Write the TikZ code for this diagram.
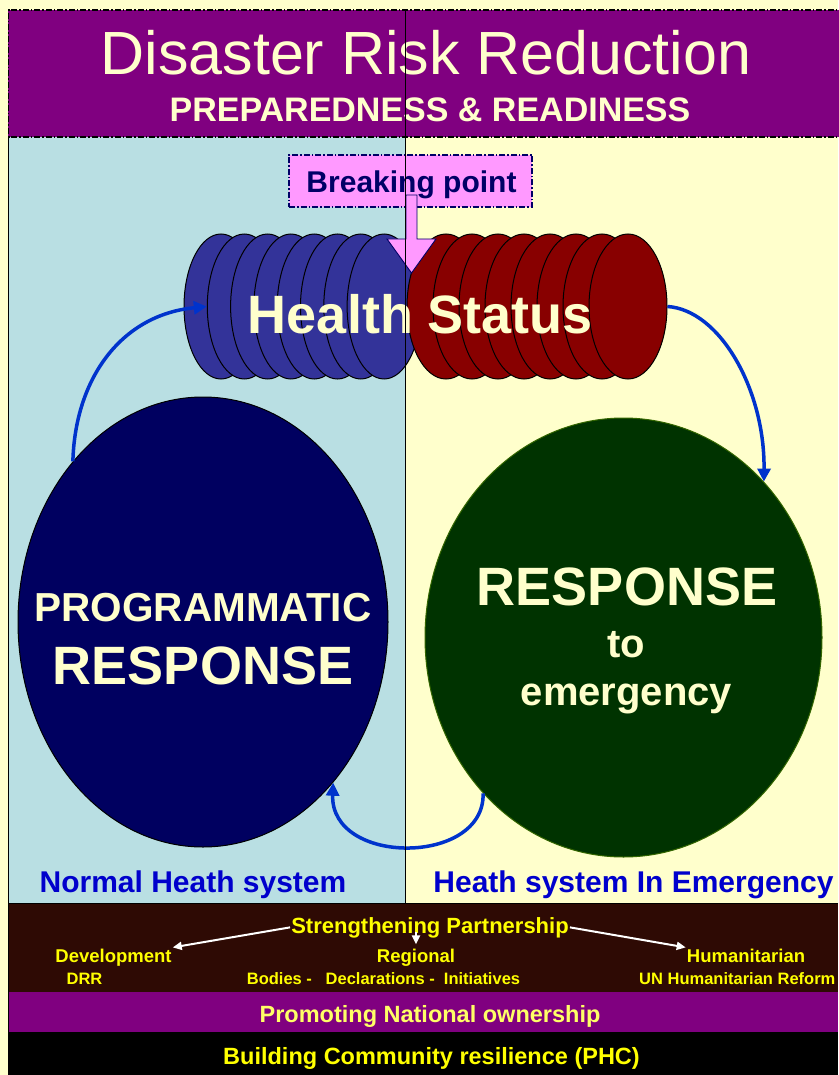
\documentclass[tikz,border=0pt]{standalone}
\usepackage{fontspec}
\setmainfont{Liberation Sans}
\usetikzlibrary{shapes.geometric,arrows.meta}
\definecolor{bgy}{HTML}{FFFFCC}
\definecolor{hpurple}{HTML}{800080}
\definecolor{lblue}{HTML}{B9DFE3}
\definecolor{bandbrown}{HTML}{2E0A04}
\definecolor{cylblue}{HTML}{333399}
\definecolor{cylred}{HTML}{880000}
\definecolor{navyell}{HTML}{000060}
\definecolor{greenell}{HTML}{003300}
\definecolor{greenedge}{HTML}{336600}
\definecolor{arrblue}{HTML}{0033CC}
\definecolor{labblue}{HTML}{0000CC}
\definecolor{pinkbp}{HTML}{FF99FF}
\definecolor{navytxt}{HTML}{000066}
\definecolor{ytxt}{HTML}{FFFF00}
\definecolor{ytxtpale}{HTML}{FFFF66}
\newcommand\setfs[1]{\fontsize{#1}{#1}\selectfont}
\begin{document}
\begin{tikzpicture}[x=1pt,y=-1pt,
  txt/.style={anchor=base,inner sep=1pt},
  cylb/.style={ellipse,draw=black,line width=1pt,fill=cylblue,minimum width=74pt,minimum height=145pt,inner sep=0pt},
  cylr/.style={ellipse,draw=black,line width=1pt,fill=cylred,minimum width=78pt,minimum height=145pt,inner sep=0pt},
  barrow/.style={draw=arrblue,line width=3.5pt,-{Triangle[length=13pt,width=13pt]}},
  warr/.style={draw=white,line width=2pt,-{Triangle[length=9pt,width=8pt]}},
  dashdot/.style={dash pattern=on 6pt off 2pt on 1.5pt off 2pt}
]
\useasboundingbox (0,0) rectangle (838,1075);
\fill[bgy] (0,0) rectangle (838,1075);
% panels
\fill[lblue] (8,137) rectangle (405,903);
\draw[line width=1pt] (8.5,137) -- (8.5,903);
% header
\fill[hpurple] (8,10) rectangle (845,137);
\draw[line width=1.5pt,dashdot] (845,10) -- (8.5,10) -- (8.5,137) -- (845,137);
% bottom bands
\fill[bandbrown] (8,903) rectangle (838,992);
\fill[hpurple] (8,992) rectangle (838,1032);
\fill[black] (8,1032) rectangle (838,1075);
\draw[line width=1pt] (8,903.5) -- (838,903.5);
\draw[line width=1pt] (8.5,903) -- (8.5,1075);

% header text
\node[txt,text=bgy,font=\setfs{61}] (title) at (426,75) {Disaster Risk Reduction};
\node[txt,text=bgy,font=\bfseries\setfs{34}] (sub) at (430,122) {PREPAREDNESS \& READINESS};

% big ellipses
\node[ellipse,draw=black,line width=1pt,fill=navyell,minimum width=370pt,minimum height=450pt,inner sep=0pt] (pr) at (203,622) {};
\node[txt,text=bgy,font=\bfseries\setfs{40.5}] (prt1) at (203,621) {PROGRAMMATIC};
\node[txt,text=bgy,font=\bfseries\setfs{54}] (prt2) at (203,684) {RESPONSE};

\node[ellipse,draw=greenedge,line width=1pt,fill=greenell,minimum width=397pt,minimum height=439pt,inner sep=0pt] (er) at (623.5,637.5) {};
\node[txt,text=bgy,font=\bfseries\setfs{54}] (ert1) at (627,605) {RESPONSE};
\node[txt,text=bgy,font=\bfseries\setfs{40}] (ert2) at (626,657) {to};
\node[txt,text=bgy,font=\bfseries\setfs{40}] (ert3) at (626.5,705) {emergency};

% cylinders
\foreach \k in {0,...,7} {
  \node[cylb] (b\k) at ({221+23.3*\k},306.5) {};
}
\foreach \k in {0,...,7} {
  \node[cylr] (r\k) at ({446+26*\k},306.5) {};
}

% breaking point
\node[draw=navytxt,fill=pinkbp,line width=1.3pt,dashdot,minimum width=243pt,minimum height=52pt,inner sep=0pt] (bp) at (410.5,181) {};
\node[txt,text=navytxt,font=\bfseries\setfs{30}] (bpt) at (411.5,193) {Breaking point};
\filldraw[fill=pinkbp,draw=navytxt,line width=0.9pt] (406,195) -- (417,195) -- (417,239) -- (436,239) -- (411.5,273) -- (387,239) -- (406,239) -- cycle;

\node[txt,text=bgy,font=\bfseries\setfs{54}] (hs) at (420.5,333) {Health Status};

% blue cycle arrows
\draw[barrow] (pr.129.5) .. controls (75,380) and (120,315) .. (b1.west);
\draw[barrow] (r7.east) .. controls (720,310) and (765,390) .. (er.48.1);
\draw[barrow] (er.-132.3) .. controls (485,866) and (330,866) .. (pr.-51.7);

% labels
\node[txt,text=labblue,font=\bfseries\setfs{30}] (nhs) at (193,892) {Normal Heath system};
\node[txt,text=labblue,font=\bfseries\setfs{30}] (hse) at (633.5,892) {Heath system In Emergency};

% partnership band
\node[txt,text=ytxt,font=\bfseries\setfs{22}] (sp) at (430,933) {Strengthening Partnership};
\node[txt,text=ytxt,font=\bfseries\setfs{18.5}] (dev) at (113.5,962) {Development};
\node[txt,text=ytxt,font=\bfseries\setfs{18.5}] (reg) at (416,962) {Regional};
\node[txt,text=ytxt,font=\bfseries\setfs{18.5}] (hum) at (746,962) {Humanitarian};
\node[txt,text=ytxt,font=\bfseries\setfs{16.5}] (drr) at (84.5,984) {DRR};
\node[txt,text=ytxt,font=\bfseries\setfs{16.5}] (bdi) at (383.5,984) {Bodies -\ \ \ Declarations -\ \ Initiatives};
\node[txt,text=ytxt,font=\bfseries\setfs{16.5},anchor=base west] (unh) at (638,984) {UN Humanitarian Reform};
\draw[warr] (sp.west) -- (dev.north east);
\draw[warr] (sp.east) -- (hum.north west);
\draw[warr] ([yshift=15pt]reg.north) -- ([yshift=3pt]reg.north);

\node[txt,text=ytxtpale,font=\bfseries\setfs{23.5}] (pno) at (430,1022) {Promoting National ownership};
\node[txt,text=ytxt,font=\bfseries\setfs{23.5}] (bcr) at (431.5,1064) {Building Community resilience (PHC)};

% divider
\draw[line width=1.3pt] (405.5,10) -- (405.5,903);
\end{tikzpicture}
\end{document}
